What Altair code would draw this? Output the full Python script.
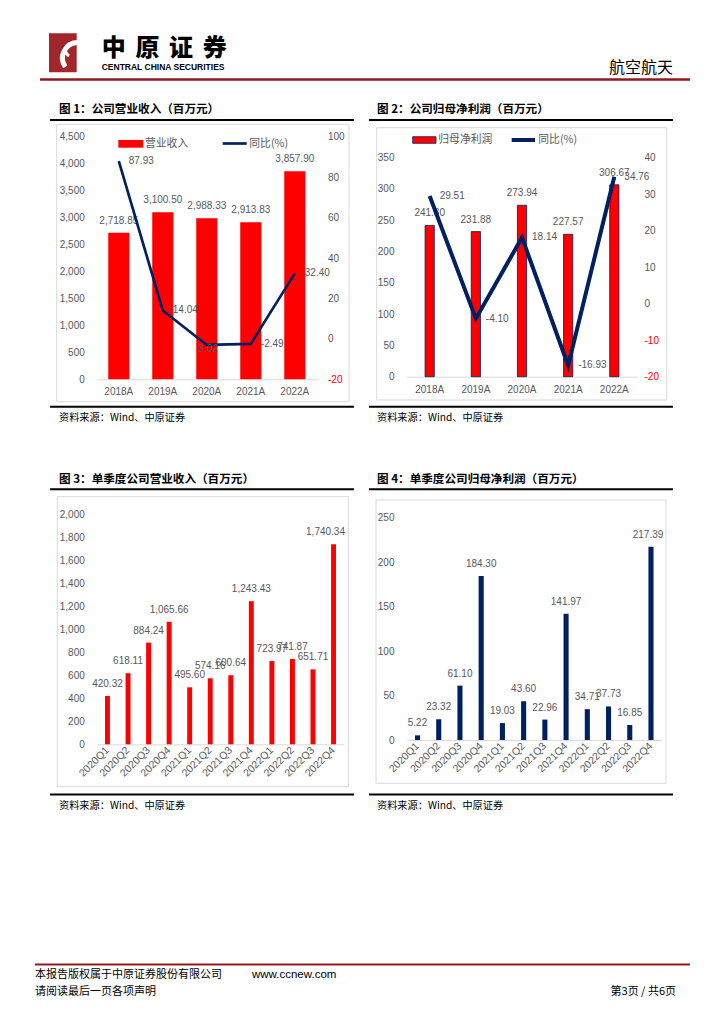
import altair as alt
import pandas as pd

# ---------------- data ----------------
years = ["2018A", "2019A", "2020A", "2021A", "2022A"]
revenue = [2718.85, 3100.50, 2988.33, 2913.83, 3857.90]
revenue_yoy = [87.93, 14.04, -3.02, -2.49, 32.40]
profit = [241.80, 231.88, 273.94, 227.57, 306.67]
profit_yoy = [29.51, -4.10, 18.14, -16.93, 34.76]
quarters = ["2020Q1", "2020Q2", "2020Q3", "2020Q4", "2021Q1", "2021Q2",
            "2021Q3", "2021Q4", "2022Q1", "2022Q2", "2022Q3", "2022Q4"]
q_revenue = [420.32, 618.11, 884.24, 1065.66, 495.60, 574.16,
             600.64, 1243.43, 723.97, 741.87, 651.71, 1740.34]
q_profit = [5.22, 23.32, 61.10, 184.30, 19.03, 43.60,
            22.96, 141.97, 34.71, 37.73, 16.85, 217.39]

rev_ticks = list(range(0, 4501, 500))
yoy1_ticks = list(range(-20, 101, 20))
profit_ticks = list(range(0, 351, 50))
yoy2_ticks = list(range(-20, 41, 10))
qrev_ticks = list(range(0, 2001, 200))
qprofit_ticks = list(range(0, 251, 50))

titles = ["图 1：公司营业收入（百万元）", "图 2：公司归母净利润（百万元）",
          "图 3：单季度公司营业收入（百万元）", "图 4：单季度公司归母净利润（百万元）"]
source = "资料来源：Wind、中原证券"

# ---------------- style ----------------
W, H = 700, 1000
M = 8
RED = "#FF0000"
NAVY = "#002060"
GREY = "#595959"
BOXC = "#D9D9D9"
DARKRED = "#8E1B1F"
NUM = "Liberation Sans"
CJK = "Noto Sans CJK SC"
ONE = pd.DataFrame({"k": [0]})
HYPHEN = "replace(datum.label, '\u2212', '-')"


def X(v):
    return v - M


def Y(v):
    return v - M


def hrule(x1, x2, y, color, sw):
    return alt.Chart(ONE).mark_rule(color=color, strokeWidth=sw).encode(
        x=alt.value(X(x1)), x2=alt.value(X(x2)), y=alt.value(Y(y)))


def rect(x1, x2, y1, y2, **kw):
    return alt.Chart(ONE).mark_rect(**kw).encode(
        x=alt.value(X(x1)), x2=alt.value(X(x2)), y=alt.value(Y(y1)), y2=alt.value(Y(y2)))


def text(s, x, y, size, color="#000000", font=CJK, weight="normal", align="left", baseline="middle"):
    return alt.Chart(ONE).mark_text(text=s, fontSize=size, color=color, font=font,
                                    fontWeight=weight, align=align, baseline=baseline).encode(
        x=alt.value(X(x)), y=alt.value(Y(y)))


def band(cats, x0, x1, inner):
    return alt.Scale(type="band", domain=cats, range=[X(x0), X(x1)],
                     paddingInner=inner, paddingOuter=inner / 2)


def lin(dom, yb, yt):
    return alt.Scale(type="linear", domain=dom, range=[Y(yb), Y(yt)], nice=False, zero=True)


def left_axis(values, fmt, right_x):
    return alt.Axis(orient="left", offset=-X(right_x), values=values, format=fmt,
                    domain=False, ticks=False, tickSize=0, labelPadding=0, grid=False,
                    title=None, labelColor=GREY, labelFont=NUM, labelFontSize=10,
                    labelOverlap=False)


def right_axis(values, fmt, left_x):
    return alt.Axis(orient="right", offset=X(left_x) - W, values=values, format=fmt,
                    domain=False, ticks=False, tickSize=0, labelPadding=0, grid=False,
                    title=None, labelFont=NUM, labelFontSize=10, labelAlign="left",
                    labelOverlap=False, labelExpr=HYPHEN,
                    labelColor={"condition": {"test": "datum.value < 0", "value": RED},
                                "value": GREY})


def bottom_axis(yb, pad, angle=0, size=10):
    kw = dict(orient="bottom", offset=Y(yb) - H, domain=True, domainColor=BOXC,
              domainWidth=1, ticks=False, tickSize=0, labelPadding=pad, grid=False,
              title=None, labelColor=GREY, labelFont=NUM, labelFontSize=size,
              labelOverlap=False, labelAngle=angle)
    if angle:
        kw.update(labelAlign="right", labelBaseline="middle")
    else:
        kw.update(labelAlign="center", labelBaseline="top")
    return alt.Axis(**kw)


def value_labels(df, field, xs, ys, fmt, groups):
    out = []
    for subset, kw in groups:
        out.append(alt.Chart(df).transform_filter(
            alt.FieldOneOfPredicate(field="cat", oneOf=subset)).transform_calculate(
            lab=f"replace(format(datum['{field}'], '{fmt}'), '\u2212', '-')").mark_text(
            font=NUM, fontSize=10, color=GREY, baseline="middle", **kw).encode(
            x=alt.X("cat:N", scale=xs, axis=None, bandPosition=0.5),
            y=alt.Y(f"{field}:Q", scale=ys, axis=None),
            text=alt.Text("lab:N")))
    return out


layers = []

# ---------------- header ----------------
layers.append(rect(49, 76.7, 33.3, 72.3, color="#A0282C"))
layers.append(alt.Chart(ONE).mark_arc(color="white", innerRadius=13, outerRadius=18).encode(
    x=alt.value(X(78)), y=alt.value(Y(58)), theta=alt.value(4.1), theta2=alt.value(6.28)))
layers.append(alt.Chart(ONE).mark_arc(color="white", innerRadius=5, outerRadius=8).encode(
    x=alt.value(X(72)), y=alt.value(Y(50)), theta=alt.value(3.6), theta2=alt.value(6.0)))
for i, ch in enumerate("中原证券"):
    layers.append(text(ch, 113.7 + i * 33.7, 48.5, 24, weight=900, align="center"))
layers.append(text("CENTRAL CHINA SECURITIES", 101.7, 66.5, 8.5, font=NUM, weight="bold"))
layers.append(text("航空航天", 673, 68, 16, align="right"))
layers.append(hrule(40, 690, 79.5, DARKRED, 2.5))

# ---------------- panel frames ----------------
frames = [
    (59, 110, 50, 354, 120, (56.7, 349, 124.3, 401.7), 406.7, 417.7),
    (377, 110, 369, 673, 120, (376.7, 666.7, 127.7, 400), 406.7, 417.7),
    (59, 480, 50, 354, 489.3, (57.3, 348.3, 496.7, 786.7), 794.5, 805.7),
    (377, 480, 369, 673, 489.3, (376, 666, 500, 783.3), 794.5, 805.7),
]
for t, (tx, ty, rx1, rx2, ry, bx, sy, sty) in zip(titles, frames):
    layers.append(rect(bx[0], bx[1], bx[2], bx[3], fillOpacity=0, stroke=BOXC, strokeWidth=1))
    layers.append(text(t, tx, ty, 11.6, weight="bold"))
    layers.append(hrule(rx1, rx2, ry, "#000000", 2))
    layers.append(hrule(rx1, rx2, sy, "#000000", 2))
    layers.append(text(source, tx, sty, 10.2))

# ---------------- chart 1 ----------------
df1 = pd.DataFrame({"cat": years, "val": revenue, "yoy": revenue_yoy})
xs1 = band(years, 96.8, 316.8, 0.52)
ys1 = lin([0, 4500], 379.3, 136.7)
yr1 = lin([-20, 100], 379.3, 136.7)
layers.append(alt.Chart(df1).mark_bar(color=RED).encode(
    x=alt.X("cat:N", scale=xs1, axis=bottom_axis(379.3, 7)),
    y=alt.Y("val:Q", scale=ys1, axis=left_axis(rev_ticks, ",d", 84.3))))
layers += value_labels(df1, "val", xs1, ys1, ",.2f", [(years, dict(align="center", dy=-12))])
layers.append(alt.Chart(df1).mark_line(color=NAVY, strokeWidth=2.7).encode(
    x=alt.X("cat:N", scale=xs1, axis=None, bandPosition=0.5),
    y=alt.Y("yoy:Q", scale=yr1, axis=right_axis(yoy1_ticks, "d", 327.5))))
layers += value_labels(df1, "yoy", xs1, yr1, ".2f", [
    (["2018A", "2019A", "2021A", "2022A"], dict(align="left", dx=10)),
    (["2020A"], dict(align="center", dy=4)),
])
layers.append(rect(118.3, 143.3, 140, 147.7, color=RED))
layers.append(text("营业收入", 145, 143.7, 10.8, color=GREY))
layers.append(hrule(222.7, 246.7, 143.5, NAVY, 2.7))
layers.append(text("同比(%)", 249.3, 143.7, 10.8, color=GREY))

# ---------------- chart 2 ----------------
df2 = pd.DataFrame({"cat": years, "val": profit, "yoy": profit_yoy})
xs2 = band(years, 406.6, 637.4, 0.8)
ys2 = lin([0, 350], 376.7, 157.7)
yr2 = lin([-20, 40], 376.7, 157.7)
layers.append(alt.Chart(df2).mark_bar(color=RED, stroke=NAVY, strokeWidth=0.8).encode(
    x=alt.X("cat:N", scale=xs2, axis=bottom_axis(376.7, 8)),
    y=alt.Y("val:Q", scale=ys2, axis=left_axis(profit_ticks, "d", 394))))
layers += value_labels(df2, "val", xs2, ys2, ".2f", [(years, dict(align="center", dy=-12))])
layers.append(alt.Chart(df2).mark_line(color=NAVY, strokeWidth=4).encode(
    x=alt.X("cat:N", scale=xs2, axis=None, bandPosition=0.5),
    y=alt.Y("yoy:Q", scale=yr2, axis=right_axis(yoy2_ticks, "d", 644))))
layers += value_labels(df2, "yoy", xs2, yr2, ".2f", [(years, dict(align="left", dx=10))])
layers.append(rect(412.7, 436, 136.7, 143.3, color=RED, stroke=NAVY, strokeWidth=0.8))
layers.append(text("归母净利润", 438.3, 140, 10.8, color=GREY))
layers.append(hrule(511.7, 535, 140, NAVY, 4))
layers.append(text("同比(%)", 538.3, 140, 10.8, color=GREY))

# ---------------- chart 3 ----------------
df3 = pd.DataFrame({"cat": quarters, "val": q_revenue})
xs3 = band(quarters, 97.2, 343.8, 0.76)
ys3 = lin([0, 2000], 744.3, 514.3)
layers.append(alt.Chart(df3).mark_bar(color=RED).encode(
    x=alt.X("cat:N", scale=xs3, axis=bottom_axis(744.3, 4, angle=315, size=10.5)),
    y=alt.Y("val:Q", scale=ys3, axis=left_axis(qrev_ticks, ",d", 84.3))))
layers += value_labels(df3, "val", xs3, ys3, ",.2f", [
    (quarters[:-1], dict(align="center", dy=-12)),
    (quarters[-1:], dict(align="center", dy=-12, dx=-8)),
])

# ---------------- chart 4 ----------------
df4 = pd.DataFrame({"cat": quarters, "val": q_profit})
xs4 = band(quarters, 406.9, 661.6, 0.76)
ys4 = lin([0, 250], 740, 517.7)
layers.append(alt.Chart(df4).mark_bar(color=NAVY).encode(
    x=alt.X("cat:N", scale=xs4, axis=bottom_axis(740, 4, angle=315, size=10.5)),
    y=alt.Y("val:Q", scale=ys4, axis=left_axis(qprofit_ticks, "d", 394))))
layers += value_labels(df4, "val", xs4, ys4, ".2f", [
    (quarters[:-1], dict(align="center", dy=-12)),
    (quarters[-1:], dict(align="center", dy=-12, dx=-3)),
])

# ---------------- footer ----------------
layers.append(hrule(35, 690, 964.5, DARKRED, 2))
layers.append(text("本报告版权属于中原证券股份有限公司", 35, 975, 11))
layers.append(text("www.ccnew.com", 252, 975, 11.5, font=NUM))
layers.append(text("请阅读最后一页各项声明", 35, 992, 11))
layers.append(text("第3页 / 共6页", 676, 992, 11, align="right"))

chart = alt.layer(*layers).resolve_scale(x="independent", y="independent").properties(
    width=W, height=H, padding=0, autosize="none", background="white"
).configure_view(stroke=None)

chart.save("out.html", embed_options={"renderer": "svg", "actions": False})
